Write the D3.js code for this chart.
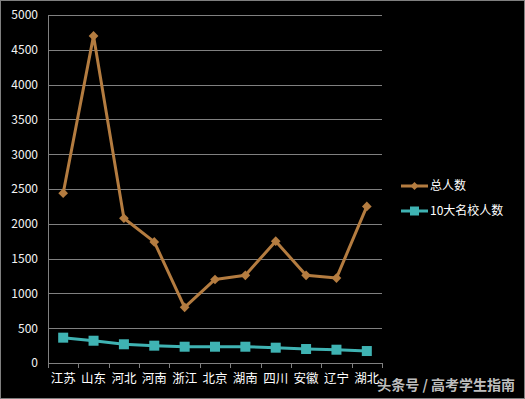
<!DOCTYPE html>
<html>
<head>
<meta charset="utf-8">
<script src="https://cdn.jsdelivr.net/npm/d3@7"></script>
<style>
  body { margin: 0; background: #000; }
  svg { display: block; }
</style>
</head>
<body>
<script>
const provinces = ["江苏", "山东", "河北", "河南", "浙江", "北京", "湖南", "四川", "安徽", "辽宁", "湖北"];
const totalCount = [2440, 4700, 2080, 1740, 800, 1200, 1260, 1750, 1260, 1220, 2250];
const topTenCount = [364, 320, 269, 249, 234, 234, 234, 220, 201, 191, 172];
const yTicks = [0, 500, 1000, 1500, 2000, 2500, 3000, 3500, 4000, 4500, 5000];
const seriesNames = ["总人数", "10大名校人数"];

const width = 525;
const height = 399;
const margin = { left: 48, top: 15, right: 143, bottom: 36 };
const innerWidth = width - margin.left - margin.right;
const innerHeight = height - margin.top - margin.bottom;

const brown = "#b47c40";
const teal = "#3fb3b3";
const font = "'Noto Sans CJK SC', 'Noto Sans', sans-serif";

const svg = d3.select("body").append("svg")
  .attr("width", width)
  .attr("height", height);

svg.append("rect")
  .attr("x", 0.5).attr("y", 0.5)
  .attr("width", width - 1).attr("height", height - 1)
  .attr("fill", "#000")
  .attr("stroke", "#7f7f7f");

const g = svg.append("g")
  .attr("transform", `translate(${margin.left}, ${margin.top})`);

const xScale = d3.scaleBand().domain(provinces).range([0, innerWidth]);
const yScale = d3.scaleLinear().domain([0, 5000]).range([innerHeight, 0]);

// gridlines
g.selectAll("line.grid").data(yTicks.filter(d => d > 0))
  .enter().append("line")
  .attr("class", "grid")
  .attr("x1", 0).attr("x2", innerWidth)
  .attr("y1", d => Math.round(yScale(d)) + 0.5)
  .attr("y2", d => Math.round(yScale(d)) + 0.5)
  .attr("stroke", "#808080");

// y axis
const yAxisG = g.append("g")
  .call(d3.axisLeft(yScale).tickValues(yTicks).tickFormat(d3.format("d")).tickSize(0).tickPadding(10));
yAxisG.select(".domain").attr("stroke", "#808080").attr("d", `M0.5,0V${innerHeight}`);
yAxisG.selectAll("text")
  .attr("fill", "#f4f4f4")
  .style("font-family", font)
  .style("font-size", "12px");

// x axis
const xAxisG = g.append("g")
  .attr("transform", `translate(0, ${innerHeight})`)
  .call(d3.axisBottom(xScale).tickSize(0).tickPadding(11));
xAxisG.select(".domain").attr("stroke", "#808080");
xAxisG.selectAll("text")
  .attr("fill", "#ffffff")
  .style("font-family", font)
  .style("font-size", "12.5px");
xAxisG.selectAll("line.sep").data(d3.range(provinces.length + 1))
  .enter().append("line")
  .attr("class", "sep")
  .attr("x1", i => Math.round(i * xScale.step()) + 0.5)
  .attr("x2", i => Math.round(i * xScale.step()) + 0.5)
  .attr("y1", 0).attr("y2", 5)
  .attr("stroke", "#808080");

const xPos = (d, i) => xScale(provinces[i]) + xScale.bandwidth() / 2;
const line = d3.line().x(xPos).y(d => yScale(d));

// total series
g.append("path").datum(totalCount)
  .attr("fill", "none")
  .attr("stroke", brown)
  .attr("stroke-width", 3)
  .attr("stroke-linejoin", "round")
  .attr("d", line);
g.selectAll("path.diamond").data(totalCount)
  .enter().append("path")
  .attr("class", "diamond")
  .attr("d", d3.symbol(d3.symbolDiamond2, 60))
  .attr("transform", (d, i) => `translate(${xPos(d, i)}, ${yScale(d)})`)
  .attr("fill", brown);

// top ten series
g.append("path").datum(topTenCount)
  .attr("fill", "none")
  .attr("stroke", teal)
  .attr("stroke-width", 3)
  .attr("d", line);
g.selectAll("rect.square").data(topTenCount)
  .enter().append("rect")
  .attr("class", "square")
  .attr("x", (d, i) => xPos(d, i) - 5)
  .attr("y", d => yScale(d) - 5)
  .attr("width", 10).attr("height", 10)
  .attr("fill", teal);

// legend
const legend = svg.append("g").attr("transform", "translate(401, 186)");
const items = legend.selectAll("g").data(seriesNames)
  .enter().append("g")
  .attr("transform", (d, i) => `translate(0, ${i * 25})`);
items.append("line")
  .attr("x1", 0).attr("x2", 27)
  .attr("stroke", (d, i) => i ? teal : brown)
  .attr("stroke-width", 3);
items.filter((d, i) => i === 0).append("path")
  .attr("d", d3.symbol(d3.symbolDiamond2, 40))
  .attr("transform", "translate(13.5, 0)")
  .attr("fill", brown);
items.filter((d, i) => i === 1).append("rect")
  .attr("x", 9).attr("y", -4.5).attr("width", 9).attr("height", 9)
  .attr("fill", teal);
items.append("text")
  .attr("x", 29)
  .attr("dy", "0.35em")
  .attr("fill", "#ffffff")
  .style("font-family", font)
  .style("font-size", "12px")
  .text(d => d);

// watermark
svg.append("text")
  .attr("x", 515).attr("y", 390)
  .attr("text-anchor", "end")
  .attr("fill", "#d8d8d8")
  .attr("fill-opacity", 0.9)
  .style("font-family", font)
  .style("font-size", "14px")
  .style("font-weight", "bold")
  .text("头条号 / 高考学生指南");
</script>
</body>
</html>
